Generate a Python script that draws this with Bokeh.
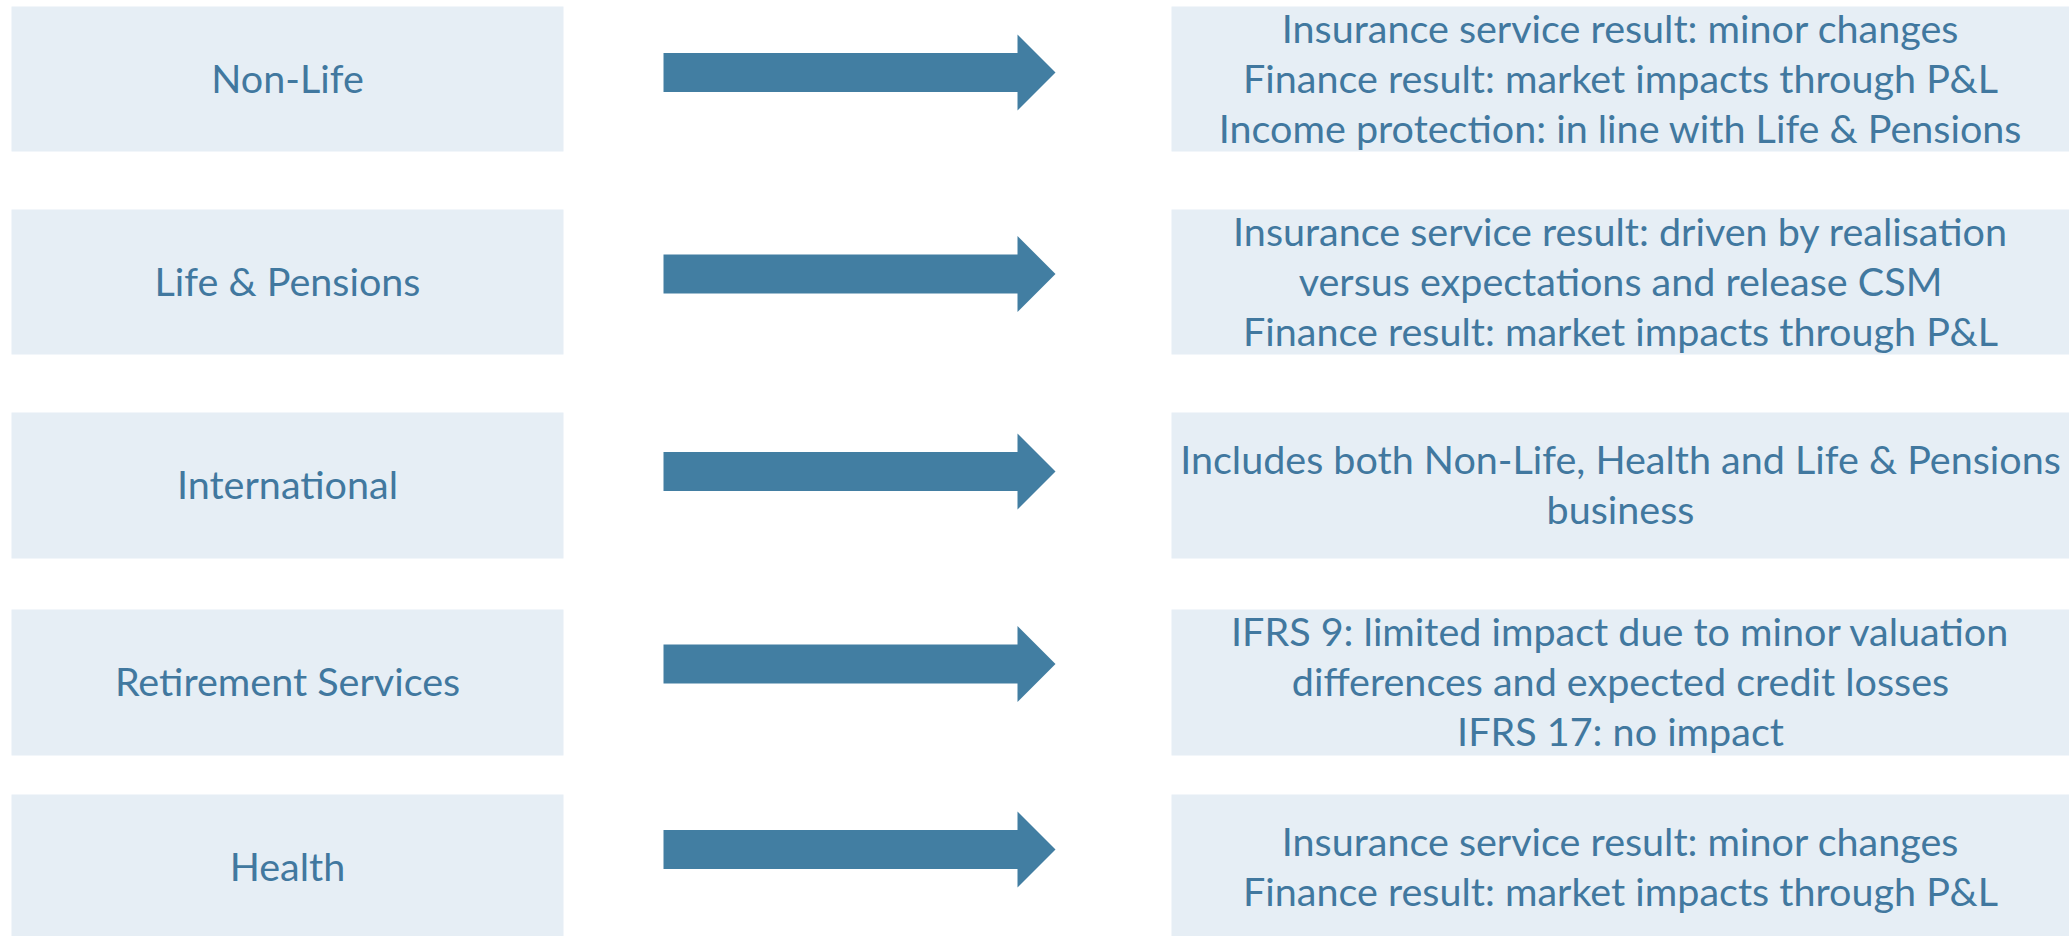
from bokeh.plotting import figure
from bokeh.models import Range1d, ColumnDataSource
from bokeh.core.properties import value
from bokeh.embed import file_html
from bokeh.resources import INLINE

# ---- data ----
segments = ["Non-Life", "Life & Pensions", "International", "Retirement Services", "Health"]
descriptions = [
    ["Insurance service result: minor changes",
     "Finance result: market impacts through P&L",
     "Income protection: in line with Life & Pensions"],
    ["Insurance service result: driven by realisation",
     "versus expectations and release CSM",
     "Finance result: market impacts through P&L"],
    ["Includes both Non-Life, Health and Life & Pensions",
     "business"],
    ["IFRS 9: limited impact due to minor valuation",
     "differences and expected credit losses",
     "IFRS 17: no impact"],
    ["Insurance service result: minor changes",
     "Finance result: market impacts through P&L"],
]

# ---- layout (reference pixel space) ----
row_top = [6, 209, 412, 609, 794]
row_h = [145, 145, 146, 146, 146]
arrow_cy = [72, 273.5, 471, 663.5, 849]
LEFT_X0, LEFT_X1 = 11, 563
RIGHT_X0, RIGHT_X1 = 1171, 2075
SHAFT_X0, SHAFT_X1, TIP_X = 663, 1017, 1055
SHAFT_HALF, HEAD_HALF = 19.5, 38
LINE_H = 50
TEXT_DY = -2

BOX_FILL = "#E6EEF5"
TEXT_COL = "#41789F"
ARROW_COL = "#427EA2"
FONT = value("Lato")
FSIZE = "39.5px"

W, H = 2069, 936
p = figure(width=W, height=H, x_range=Range1d(0, W), y_range=Range1d(H, 0),
           output_backend="svg", toolbar_location=None, min_border=0,
           x_axis_type=None, y_axis_type=None)
p.grid.visible = False
p.outline_line_color = None
p.background_fill_color = "white"
p.border_fill_color = "white"

n = len(segments)
tops = row_top
bottoms = [t + h for t, h in zip(row_top, row_h)]
centers = [(t + b) / 2 for t, b in zip(tops, bottoms)]

# boxes
p.quad(left=[LEFT_X0] * n, right=[LEFT_X1] * n, top=tops, bottom=bottoms,
       fill_color=BOX_FILL, line_color=None)
p.quad(left=[RIGHT_X0] * n, right=[RIGHT_X1] * n, top=tops, bottom=bottoms,
       fill_color=BOX_FILL, line_color=None)

# arrows
xs, ys = [], []
for cy in arrow_cy:
    xs.append([SHAFT_X0, SHAFT_X1, SHAFT_X1, TIP_X, SHAFT_X1, SHAFT_X1, SHAFT_X0])
    ys.append([cy - SHAFT_HALF, cy - SHAFT_HALF, cy - HEAD_HALF, cy,
               cy + HEAD_HALF, cy + SHAFT_HALF, cy + SHAFT_HALF])
p.patches(xs=xs, ys=ys, fill_color=ARROW_COL, line_color=None)

# left labels
left_src = ColumnDataSource(dict(x=[(LEFT_X0 + LEFT_X1) / 2] * n,
                                 y=[c + TEXT_DY for c in centers], text=segments))
p.text(x="x", y="y", text="text", source=left_src, text_font=FONT, text_font_size=FSIZE,
       text_color=TEXT_COL, text_align="center", text_baseline="middle")

# right descriptions
rx, ry, rt = [], [], []
right_cx = (RIGHT_X0 + 2069) / 2
for c, lines in zip(centers, descriptions):
    k = len(lines)
    for j, line in enumerate(lines):
        rx.append(right_cx)
        ry.append(c + TEXT_DY + (j - (k - 1) / 2) * LINE_H)
        rt.append(line)
right_src = ColumnDataSource(dict(x=rx, y=ry, text=rt))
p.text(x="x", y="y", text="text", source=right_src, text_font=FONT, text_font_size=FSIZE,
       text_color=TEXT_COL, text_align="center", text_baseline="middle")

open("out.html", "w").write(file_html(p, INLINE))
